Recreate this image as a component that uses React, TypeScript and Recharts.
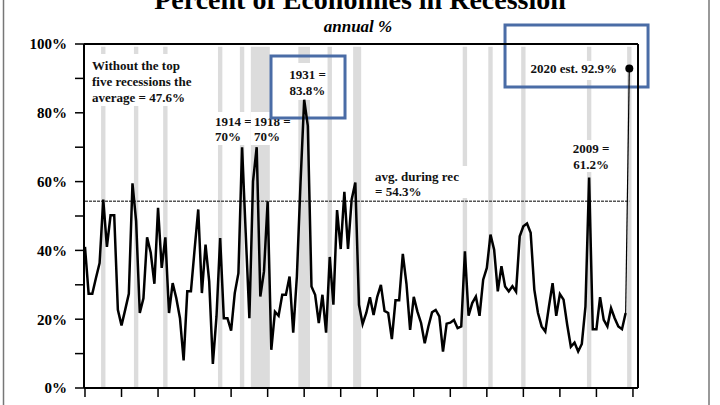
import React from 'react'
import {
  ComposedChart,
  Line,
  XAxis,
  YAxis,
  ReferenceArea,
  ReferenceLine,
  ReferenceDot,
} from 'recharts'

// share of economies in recession, one value per year starting 1871
const START_YEAR = 1871
const PCT_IN_RECESSION = [
  41, 27.4, 27.4, 32, 36.3, 54.8, 41, 50.2, 50.2, 22.7, // 1871-1880
  18.2, 22.7, 27.4, 59.5, 48.5, 21.8, 26.1, 43.8, 39.3, 30.3, // 1881-1890
  52.4, 34.9, 43.8, 21.8, 30.5, 26.1, 20.3, 8.0, 28.1, 28.1, // 1891-1900
  40.2, 51.9, 27.6, 41.7, 31, 7.0, 20.8, 43.6, 20.3, 20.3, // 1901-1910
  16.7, 27.6, 33.4, 70, 45, 20.3, 60.1, 70, 26.6, 33.9, // 1911-1920
  54.3, 11.1, 22.2, 21, 27.1, 27.1, 32.4, 16.1, 32.4, 59.7, // 1921-1930
  83.8, 76.2, 29.5, 27.1, 18.9, 27.1, 16.1, 38.1, 24.2, 51.7, // 1931-1940
  40.4, 57, 40.4, 54.8, 59.7, 24.2, 18.6, 21.8, 26.4, 21.2, // 1941-1950
  26.5, 30, 22.4, 21.8, 14.2, 25.5, 25.5, 39, 30.3, 16.9, // 1951-1960
  26.5, 22.2, 18.9, 13, 17.9, 22, 22.7, 20.8, 10.6, 18.7, // 1961-1970
  19, 19.8, 17.4, 17.9, 39.7, 21, 24.7, 26.6, 21, 31.5, // 1971-1980
  34.9, 44.6, 40.2, 28.1, 35.4, 29.5, 28.1, 29.6, 28, 44.1, // 1981-1990
  47, 47.8, 45.1, 28.6, 21.8, 17.9, 16.4, 23.7, 30.5, 21, // 1991-2000
  27.3, 25.7, 18.4, 12, 13.2, 10.6, 12.8, 23.7, 61.2, 17.1, // 2001-2010
  17.1, 26.4, 19.8, 17.9, 23.2, 20.3, 17.9, 17.1, 21.8, 92.9, // 2011-2020
]

// global recession years (shaded)
const RECESSIONS: [number, number][] = [
  [1876, 1876], [1885, 1885], [1893, 1893], [1908, 1908], [1914, 1914],
  [1917, 1921], [1930, 1932], [1938, 1938], [1945, 1946], [1975, 1975],
  [1982, 1982], [1991, 1991], [2009, 2009], [2020, 2020],
]

const AVG_DURING_REC = 54.3
const EST_2020 = 92.9

const X_TICKS = [1871, 1881, 1891, 1901, 1911, 1921, 1931, 1941, 1951, 1961, 1971, 1981, 1991, 2001, 2011, 2021]
const Y_TICKS = [0, 10, 20, 30, 40, 50, 60, 70, 80, 90, 100]
const Y_LABELS = [0, 20, 40, 60, 80, 100]

const lastIdx = PCT_IN_RECESSION.length - 1
const data = PCT_IN_RECESSION.map((v, i) => ({
  year: START_YEAR + i,
  pct: i < lastIdx ? v : null,
  jump: i >= lastIdx - 1 ? v : null,
}))

const SERIF = '"Liberation Serif", "Times New Roman", serif'
const noteFont = { fontFamily: SERIF, fontWeight: 700, fontSize: 13, fill: '#111' }
const tickStyle = { fill: '#000', fontSize: 15, fontWeight: 700, fontFamily: SERIF }
const BLUE = '#4a6ca6'

const NoteText = (props: any) => {
  const { viewBox, lines, align = 'start', top = 14, gap = 16 } = props
  const { x, y, width } = viewBox
  const tx = align === 'middle' ? x + width / 2 : align === 'end' ? x + width - 3 : x + 3
  return (
    <text x={tx} y={y + top} textAnchor={align} style={noteFont}>
      {lines.map((l: string, i: number) => (
        <tspan key={i} x={tx} dy={i === 0 ? 0 : gap}>{l}</tspan>
      ))}
    </text>
  )
}

const fmtPct = (v: number) => (Y_LABELS.includes(v) ? `${v}%` : '')

export default function App() {
  return (
    <div style={{ position: 'absolute', left: 0, top: 0, width: 720, height: 405, background: '#fff', overflow: 'hidden' }}>
      <ComposedChart width={720} height={405} data={data} margin={{ top: 44, right: 0, bottom: 0, left: 0 }}>
        <XAxis
          dataKey="year"
          type="number"
          domain={[1870.73, 2022.38]}
          ticks={X_TICKS}
          tickFormatter={() => ''}
          tickSize={9}
          height={17}
          allowDataOverflow
          axisLine={{ stroke: '#000', strokeWidth: 2 }}
          tickLine={{ stroke: '#000', strokeWidth: 1.5 }}
        />
        <YAxis
          yAxisId="left"
          domain={[0, 100]}
          ticks={Y_TICKS}
          tickFormatter={fmtPct}
          width={84}
          tickSize={9}
          tickMargin={8}
          tick={tickStyle}
          axisLine={{ stroke: '#000', strokeWidth: 2 }}
          tickLine={{ stroke: '#000', strokeWidth: 1.5 }}
        />
        <YAxis
          yAxisId="right"
          orientation="right"
          domain={[0, 100]}
          ticks={Y_TICKS}
          tickFormatter={fmtPct}
          width={82}
          tickSize={6}
          tickMargin={11}
          tick={tickStyle}
          axisLine={{ stroke: '#000', strokeWidth: 2 }}
          tickLine={{ stroke: '#000', strokeWidth: 1.5 }}
        />

        {RECESSIONS.map(([a, b]) => (
          <ReferenceArea
            key={a}
            yAxisId="left"
            x1={a - 0.6}
            x2={b + 0.6}
            y1={0}
            y2={99.2}
            fill="#dcdcdc"
            fillOpacity={1}
            stroke="none"
          />
        ))}

        <ReferenceLine yAxisId="left" y={100} stroke="#000" strokeWidth={2} />
        <ReferenceLine
          yAxisId="left"
          segment={[{ x: START_YEAR, y: AVG_DURING_REC }, { x: 2020, y: AVG_DURING_REC }]}
          stroke="#555"
          strokeWidth={1.4}
          strokeDasharray="3 1"
        />

        {/* annotation backgrounds + text */}
        <ReferenceArea yAxisId="left" x1={1872.1} x2={1901.66} y1={81.98} y2={97.09} fill="#fff" fillOpacity={1} stroke="none"
          label={<NoteText lines={['Without the top', 'five recessions the', 'average = 47.6%']} top={15.5} />} />
        <ReferenceArea yAxisId="left" x1={1905.77} x2={1916.17} y1={70.64} y2={80.23} fill="#fff" fillOpacity={1} stroke="none"
          label={<NoteText lines={['1914 =', '70%']} top={14} gap={15} />} />
        <ReferenceArea yAxisId="left" x1={1916.45} x2={1927.4} y1={70.64} y2={80.23} fill="#fff" fillOpacity={1} stroke="none"
          label={<NoteText lines={['1918 =', '70%']} top={14} gap={15} />} />
        <ReferenceArea yAxisId="left" x1={1926.57} x2={1937.25} y1={83.72} y2={94.48} fill="#fff" fillOpacity={1} stroke="none"
          label={<NoteText lines={['1931 =', '83.8%']} align="middle" top={16.5} />} />
        <ReferenceArea yAxisId="left" x1={1949.57} x2={1976.94} y1={55.23} y2={64.53} fill="#fff" fillOpacity={1} stroke="none"
          label={<NoteText lines={['avg. during rec', '= 54.3%']} top={14.5} gap={15.5} />} />
        <ReferenceArea yAxisId="left" x1={2004.32} x2={2014.73} y1={62.79} y2={72.09} fill="#fff" fillOpacity={1} stroke="none"
          label={<NoteText lines={['2009 =', '61.2%']} align="middle" top={12.5} />} />
        <ReferenceArea yAxisId="left" x1={1992.28} x2={2017.47} y1={89.53} y2={95.06} fill="#fff" fillOpacity={1} stroke="none"
          label={<NoteText lines={['2020 est. 92.9%']} align="end" top={12.5} />} />

        {/* highlight boxes */}
        <ReferenceArea yAxisId="left" x1={1921.92} x2={1942.18} y1={78.49} y2={96.51} fill="none" stroke={BLUE} strokeWidth={3} />
        <ReferenceArea yAxisId="left" x1={1985.98} x2={2025.13} y1={87.5} y2={105.52} fill="none" stroke={BLUE} strokeWidth={3} ifOverflow="visible" />

        <Line
          yAxisId="left"
          dataKey="pct"
          stroke="#000"
          strokeWidth={2.5}
          dot={false}
          activeDot={false}
          isAnimationActive={false}
          connectNulls={false}
        />
        <Line
          yAxisId="left"
          dataKey="jump"
          stroke="#000"
          strokeWidth={1.2}
          dot={false}
          activeDot={false}
          isAnimationActive={false}
          connectNulls={false}
        />
        <ReferenceDot yAxisId="left" x={2020} y={EST_2020} r={4} fill="#000" stroke="none" />
      </ComposedChart>

      <svg width={720} height={405} style={{ position: 'absolute', left: 0, top: 0, pointerEvents: 'none' }}>
        <text x={360} y={9} textAnchor="middle" style={{ fontFamily: SERIF, fontWeight: 700, fontSize: 28 }}>
          Percent of Economies in Recession
        </text>
        <text x={358} y={32} textAnchor="middle" style={{ fontFamily: SERIF, fontWeight: 700, fontStyle: 'italic', fontSize: 17 }}>
          annual %
        </text>
        <line x1={3.5} y1={0} x2={3.5} y2={405} stroke="#777" strokeWidth={1.5} />
        <line x1={709} y1={0} x2={709} y2={405} stroke="#777" strokeWidth={1.5} />
      </svg>
    </div>
  )
}
